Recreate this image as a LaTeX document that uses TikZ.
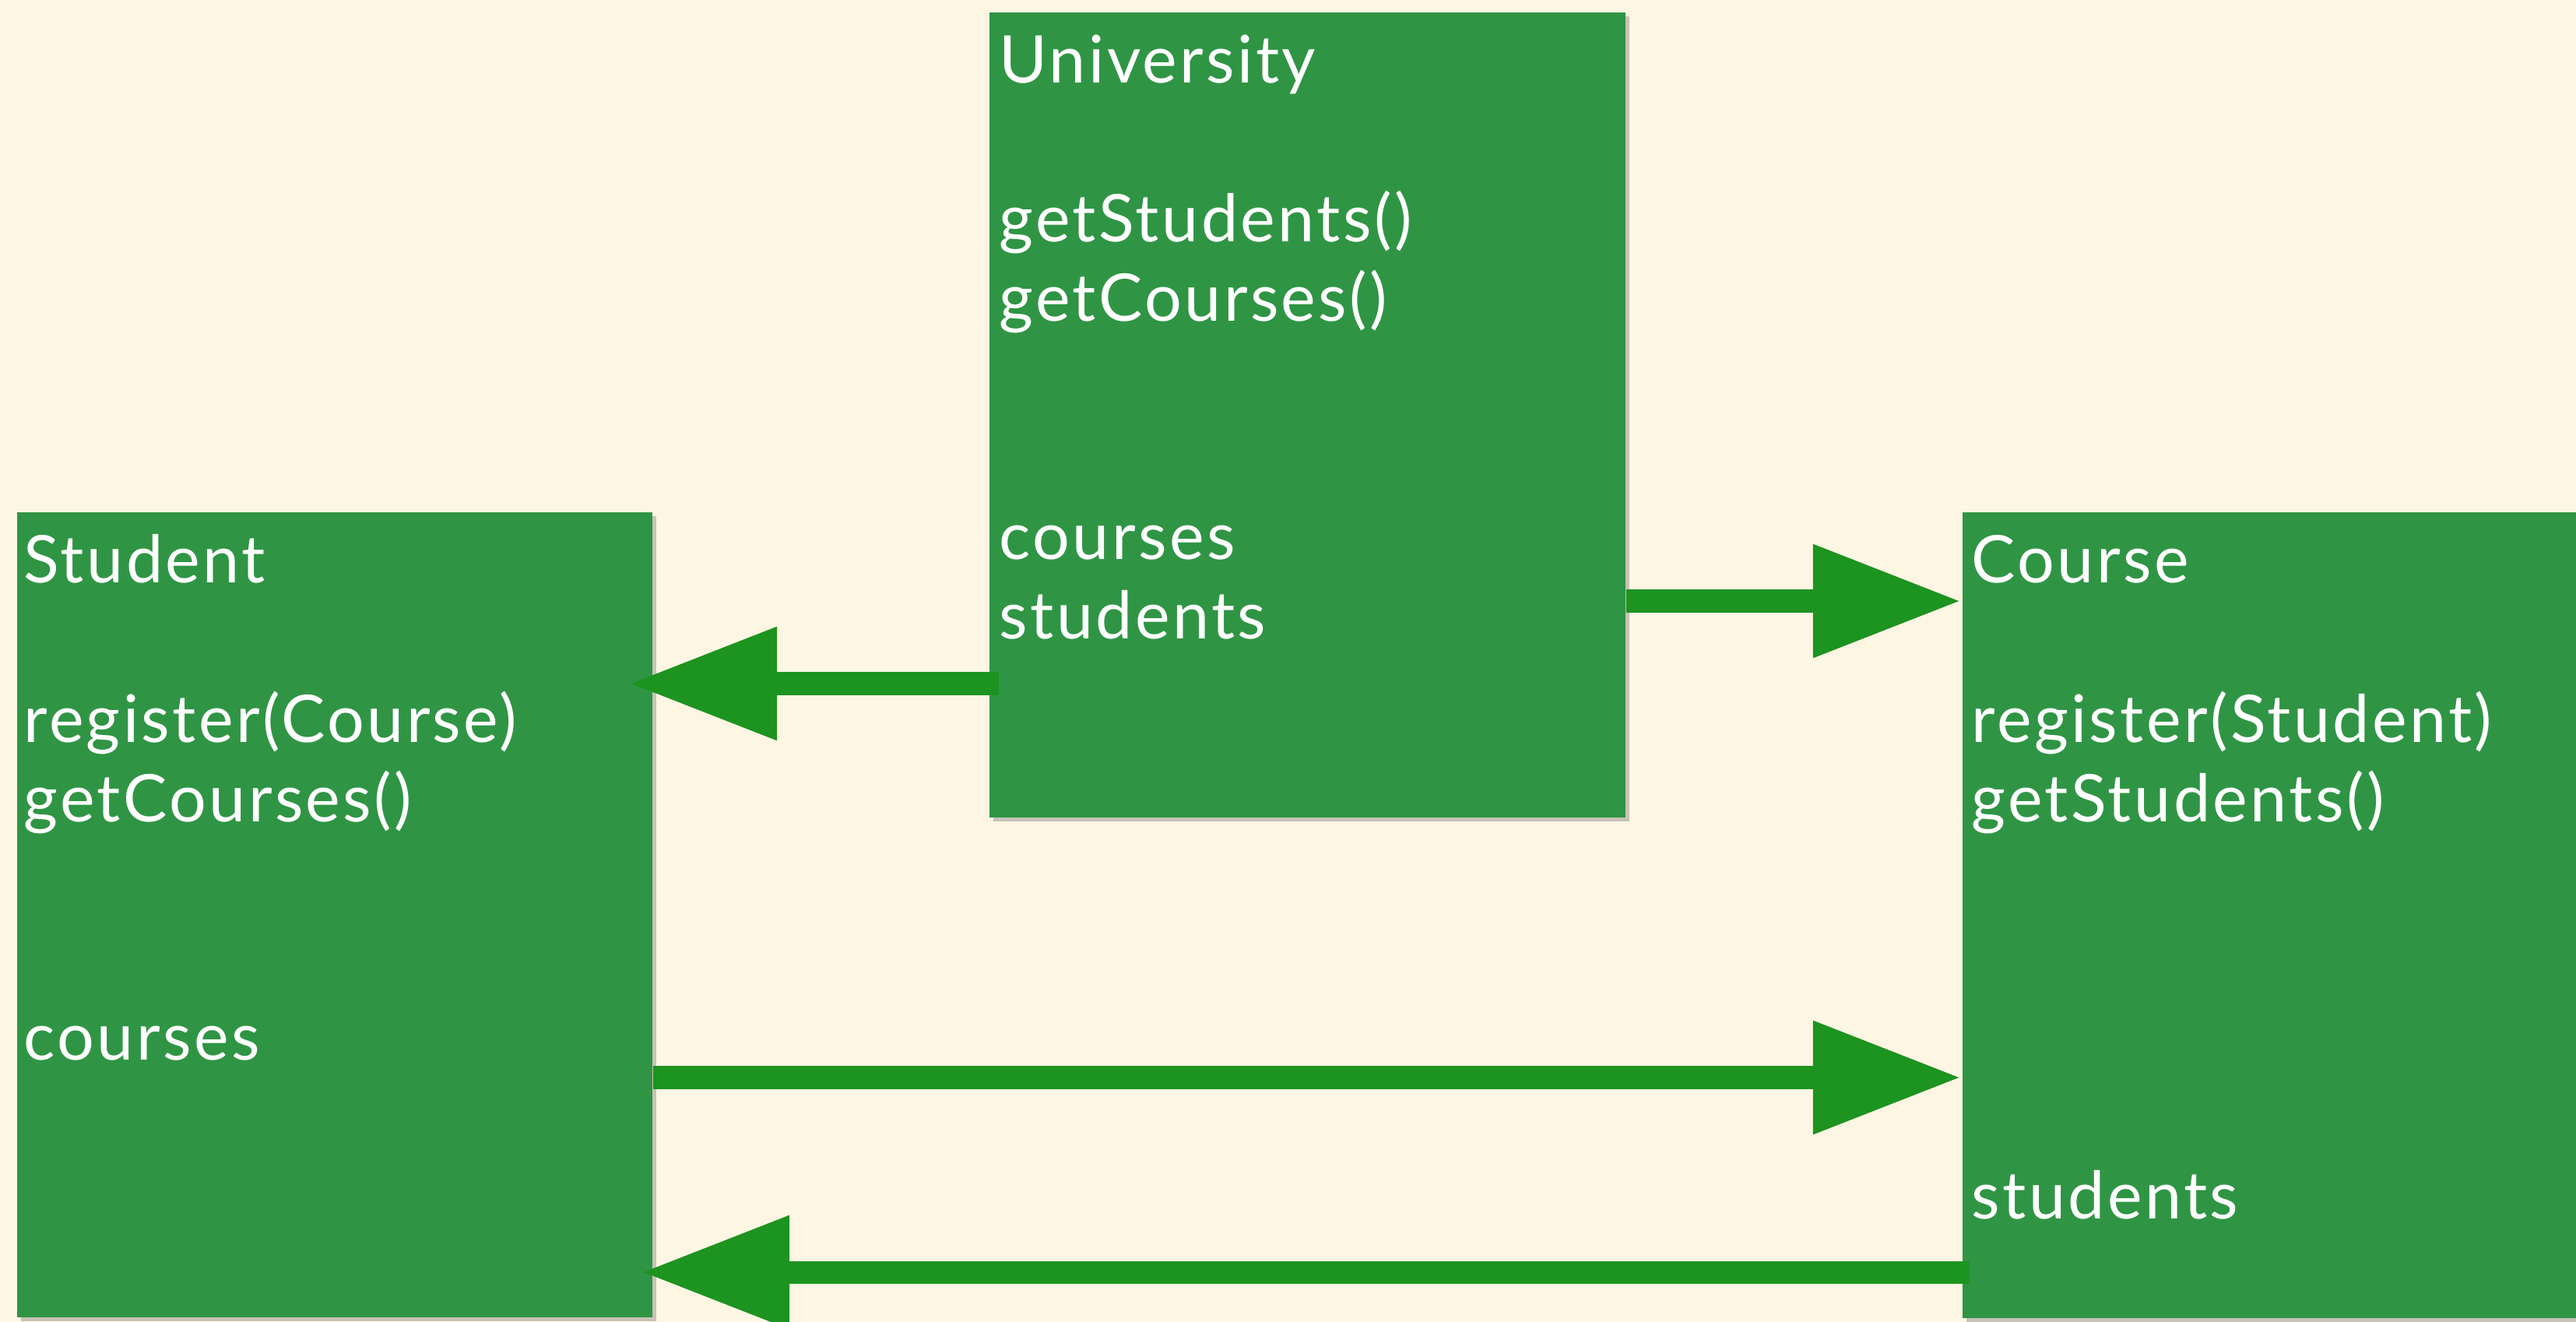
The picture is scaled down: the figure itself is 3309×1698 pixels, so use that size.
\documentclass[tikz,border=0pt]{standalone}
\usepackage{fontspec}
\setmainfont{Lato}[LetterSpace=4]
\usetikzlibrary{arrows.meta,shadows}
\definecolor{bg}{HTML}{FDF6E3}
\definecolor{boxgreen}{HTML}{2F9544}
\definecolor{arrgreen}{HTML}{1D9320}
\tikzset{
  classbox/.style={draw=none, fill=boxgreen, anchor=north west, inner sep=0pt,
    drop shadow={shadow xshift=0.05cm, shadow yshift=-0.05cm, opacity=0.35, fill=black!60}},
  txt/.style={anchor=base west, inner sep=0pt, text=white, font=\fontsize{24}{28}\selectfont},
  arr/.style={draw=arrgreen, line width=0.29cm, -{Triangle[length=1.9cm, width=1.38cm, fill=arrgreen]}}
}
\begin{document}
\begin{tikzpicture}[x=0.01cm, y=-0.01cm]
\fill[bg] (0,0) rectangle (3309,1698);
\useasboundingbox (0,0) rectangle (3309,1698);
% boxes
\node[classbox, minimum width=8.17cm, minimum height=10.34cm] (uni) at (1270,15) {};
\node[classbox, minimum width=8.16cm, minimum height=10.34cm] (stu) at (21,657) {};
\node[classbox, minimum width=8.20cm, minimum height=10.35cm] (crs) at (2520,657) {};
% University text
\node[txt] (u1) at (1283,107) {University};
\node[txt] (u2) at (1283,311) {getStudents()};
\node[txt] (u3) at (1283,413) {getCourses()};
\node[txt] (u4) at (1283,719) {courses};
\node[txt] (u5) at (1283,821) {students};
% Student text
\node[txt] (s1) at (30,749) {Student};
\node[txt] (s2) at (30,953) {register(Course)};
\node[txt] (s3) at (30,1055) {getCourses()};
\node[txt] (s4) at (30,1361) {courses};
% Course text
\node[txt] (c1) at (2532,749) {Course};
\node[txt] (c2) at (2532,953) {register(Student)};
\node[txt] (c3) at (2532,1055) {getStudents()};
\node[txt] (c4) at (2532,1565) {students};
% arrows
\coordinate (a1s) at (1283,878);
\coordinate (a1e) at (808,878);
\coordinate (a2e) at (2519,772);
\coordinate (a3e) at (2519,1384);
\coordinate (a4s) at (2530,1634);
\coordinate (a4e) at (824,1634);
\draw[arr] (a1s) -- (a1e);
\draw[arr] (uni.east |- a2e) -- (a2e);
\draw[arr] (stu.east |- a3e) -- (a3e);
\draw[arr] (a4s) -- (a4e);
\end{tikzpicture}
\end{document}
